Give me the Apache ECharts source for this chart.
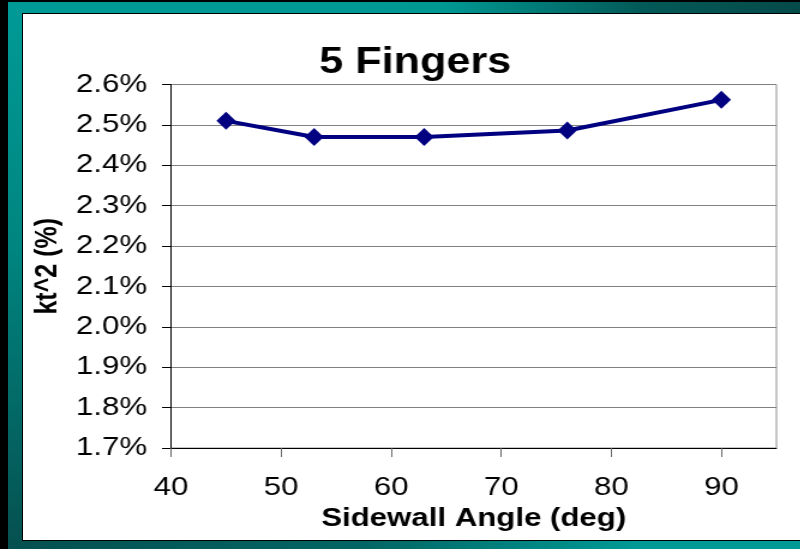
<!DOCTYPE html>
<html>
<head>
<meta charset="utf-8">
<script src="https://cdn.jsdelivr.net/npm/echarts@6/dist/echarts.min.js"></script>
<style>
  html, body { margin: 0; padding: 0; width: 800px; height: 549px; overflow: hidden; background: #000; }
  #frame { position: absolute; left: 0; top: 0; width: 800px; height: 549px; background: #000; }
  #edgeTop { position: absolute; left: 8px; top: 2px; width: 792px; height: 12px;
    background: linear-gradient(to right, #009a96 0%, #009893 55%, #035a58 80%, #064a4a 100%); }
  #edgeLeft { position: absolute; left: 8px; top: 2px; width: 15px; height: 547px;
    background: linear-gradient(to bottom, #009a96 0%, #008580 45%, #05504f 100%); }
  #edgeBottom { position: absolute; left: 8px; top: 540px; width: 792px; height: 9px;
    background: linear-gradient(to right, #05504f 0%, #036664 45%, #009a96 80%, #009a96 100%); }
  #panel { position: absolute; left: 22px; top: 13px; width: 778px; height: 526px;
    background: #fff; border-left: 1px solid #000; border-top: 1px solid #000; border-bottom: 1px solid #000; }
  /* the chart is laid out narrower and widened on screen, giving the broad lettering */
  #chart { position: absolute; left: 0; top: 0; width: 666.667px; height: 549px;
    transform: scaleX(1.2); transform-origin: 0 0; }
</style>
</head>
<body>
<div id="frame">
  <div id="edgeTop"></div>
  <div id="edgeLeft"></div>
  <div id="edgeBottom"></div>
  <div id="panel"></div>
</div>
<div id="chart"></div>
<script>
// Sidewall angle (deg) against coupling kt^2 (%)
const sidewallAngle = [45, 53, 63, 76, 90];
const kt2Percent = [2.51, 2.47, 2.47, 2.486, 2.562];
const xTicks = [40, 50, 60, 70, 80, 90];
const yTicks = [1.7, 1.8, 1.9, 2.0, 2.1, 2.2, 2.3, 2.4, 2.5, 2.6];

const font = "'Liberation Sans', Arial, sans-serif";
const chart = echarts.init(document.getElementById('chart'), null, { renderer: 'canvas' });

chart.setOption({
  backgroundColor: 'transparent',
  animation: false,
  title: {
    text: '5 Fingers',
    left: 341,
    top: 40,
    textAlign: 'center',
    textStyle: { fontFamily: font, fontSize: 36, fontWeight: 'bold', color: '#000' }
  },
  grid: {
    left: 142.5, right: 20, top: 84.5, bottom: 101,
    show: true, borderColor: '#8c8c8c', borderWidth: 1, backgroundColor: '#fff'
  },
  xAxis: {
    type: 'value',
    min: 40, max: 95, interval: 10,
    name: 'Sidewall Angle (deg)',
    nameLocation: 'middle',
    nameGap: 54,
    nameTextStyle: { fontFamily: font, fontSize: 26, fontWeight: 'bold', color: '#000' },
    axisLine: { show: true, onZero: false, lineStyle: { color: '#000', width: 1 } },
    axisTick: { show: true, length: 9, customValues: xTicks, lineStyle: { color: '#666', width: 1 } },
    axisLabel: { customValues: xTicks, margin: 27, fontFamily: font, fontSize: 26, color: '#000' },
    splitLine: { show: false }
  },
  yAxis: {
    type: 'value',
    min: yTicks[0], max: yTicks[yTicks.length - 1], interval: 0.1,
    name: 'kt^2 (%)',
    nameLocation: 'middle',
    nameGap: 87,
    nameTextStyle: { fontFamily: font, fontSize: 25, fontWeight: 'bold', color: '#000' },
    axisLine: { show: true, onZero: false, lineStyle: { color: '#000', width: 1 } },
    axisTick: { show: true, length: 7.5, lineStyle: { color: '#000', width: 1 } },
    axisLabel: {
      margin: 20, fontFamily: font, fontSize: 26, color: '#000',
      formatter: v => v.toFixed(1) + '%'
    },
    splitLine: { show: true, lineStyle: { color: '#808080', width: 1 } }
  },
  series: [{
    type: 'line',
    data: sidewallAngle.map((a, i) => [a, kt2Percent[i]]),
    symbol: 'diamond',
    symbolSize: [16, 18],
    lineStyle: { color: '#000080', width: 4 },
    itemStyle: { color: '#000080' }
  }]
});
</script>
</body>
</html>
